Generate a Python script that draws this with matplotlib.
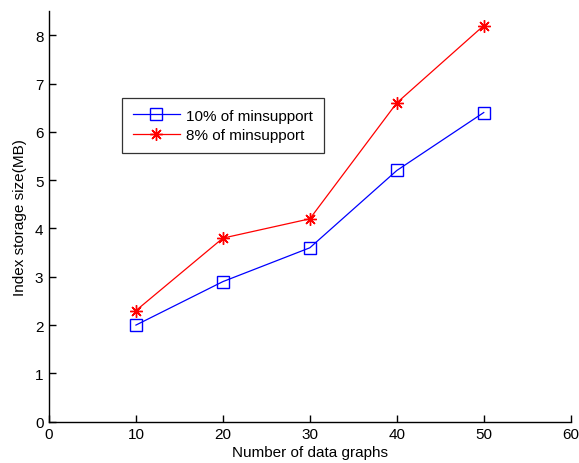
import matplotlib
matplotlib.use("Agg")
import matplotlib.pyplot as plt

x_vals = [10, 20, 30, 40, 50]
series_10 = [2.0, 2.9, 3.6, 5.2, 6.4]
series_8 = [2.3, 3.8, 4.2, 6.6, 8.2]
label_10 = "10% of minsupport"
label_8 = "8% of minsupport"
x_ticks = [0, 10, 20, 30, 40, 50, 60]
y_ticks = [0, 1, 2, 3, 4, 5, 6, 7, 8]

plt.rcParams['font.family'] = ['Liberation Sans', 'DejaVu Sans']
fig = plt.figure(figsize=(5.79, 4.64), dpi=100)
ax = fig.add_axes([0.0846, 0.089, 0.9011, 0.885])

ax.plot(x_vals, series_10, color='#0000ff', marker='s', markersize=8, markerfacecolor='none',
        markeredgewidth=1.0, linewidth=0.9, label=label_10)
ax.plot(x_vals, series_8, color='#ff0000', marker=(8, 2, 0), markersize=9,
        markeredgewidth=1.0, linewidth=0.9, label=label_8)

ax.set_xlim(0, 60)
ax.set_ylim(0, 8.5)
ax.set_xticks(x_ticks)
ax.set_yticks(y_ticks)
ax.tick_params(direction='in', length=5, width=1, labelsize=11, pad=4)
ax.spines['top'].set_visible(False)
ax.spines['right'].set_visible(False)
for s in ['left', 'bottom']:
    ax.spines[s].set_linewidth(1.0)

ax.set_xlabel("Number of data graphs", fontsize=11, labelpad=3)
ax.set_ylabel("Index storage size(MB)", fontsize=11, labelpad=6)

leg = ax.legend(loc='upper left', bbox_to_anchor=(0.14, 0.788), fontsize=11, frameon=True,
                fancybox=False, edgecolor='black', borderaxespad=0, handlelength=3.1,
                handletextpad=0.4, borderpad=0.7, labelspacing=0.35)
leg.get_frame().set_linewidth(0.9)

fig.savefig("out.png", dpi=100)
